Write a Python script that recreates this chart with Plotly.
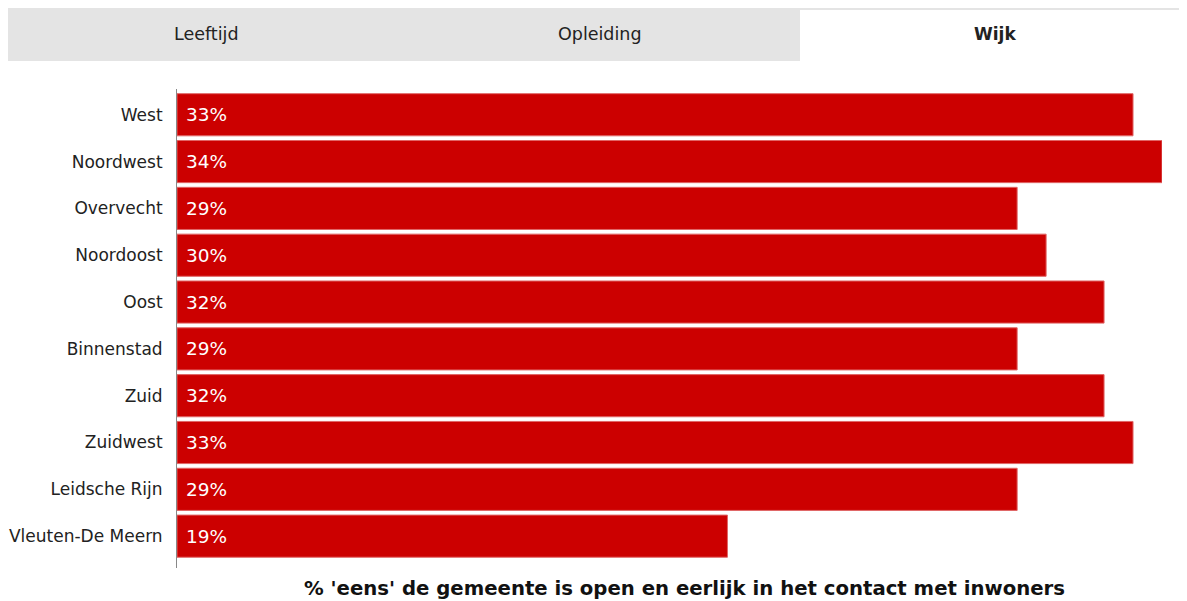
import plotly.graph_objects as go

# Data
wijken = ["West", "Noordwest", "Overvecht", "Noordoost", "Oost",
          "Binnenstad", "Zuid", "Zuidwest", "Leidsche Rijn", "Vleuten-De Meern"]
percentages = [33, 34, 29, 30, 32, 29, 32, 33, 29, 19]
tabs = ["Leeftijd", "Opleiding", "Wijk"]
title_text = "% 'eens' de gemeente is open en eerlijk in het contact met inwoners"

# the page body has an 8px margin, so the figure is offset by 8px
OFF = 8
W, H = 1187 - 2 * OFF, 601 - OFF
L = 177 - OFF
T = 89 - OFF
R = W - (1162 - OFF)
B = H - (568 - OFF)
plot_w = W - L - R
plot_h = H - T - B


def px_x(px):
    return (px - OFF - L) / plot_w


def px_y(py):
    return (H - B - (py - OFF)) / plot_h


FONT = "DejaVu Sans, Verdana, sans-serif"

fig = go.Figure(go.Bar(
    y=wijken,
    x=percentages,
    orientation="h",
    marker=dict(color="#cc0000", line=dict(color="#e06666", width=1)),
    text=[f" {v}%" for v in percentages],
    textposition="inside",
    insidetextanchor="start",
    textfont=dict(color="white", size=18.5, family=FONT),
    hoverinfo="skip",
))

fig.update_layout(
    width=W, height=H,
    margin=dict(l=L, r=R, t=T, b=B, autoexpand=False),
    plot_bgcolor="white",
    paper_bgcolor="white",
    bargap=0.1,
    showlegend=False,
    font=dict(family=FONT, color="#222"),
)

fig.update_xaxes(range=[0, 34], visible=False, showgrid=False, zeroline=False,
                 automargin=False)
fig.update_yaxes(
    categoryorder="array", categoryarray=wijken,
    range=[len(wijken) - 1 + 0.68, -0.55],
    showline=True, linecolor="#888", linewidth=1, automargin=False,
    showgrid=False, ticks="", ticklabelstandoff=10,
    tickfont=dict(size=17, family=FONT, color="#222"),
)

# tab strip
shapes = [
    dict(type="rect", xref="paper", yref="paper",
         x0=px_x(8), x1=px_x(1190), y0=px_y(61), y1=px_y(6),
         fillcolor="#e4e4e4", line=dict(width=0), layer="below"),
    dict(type="rect", xref="paper", yref="paper",
         x0=px_x(800), x1=px_x(1185), y0=px_y(61), y1=px_y(10),
         fillcolor="white", line=dict(width=0), layer="below"),
]
fig.update_layout(shapes=shapes)

tab_centers = [206, 600, 995]
for name, cx in zip(tabs, tab_centers):
    bold = name == "Wijk"
    fig.add_annotation(
        x=px_x(cx), y=px_y(34), xref="paper", yref="paper",
        xanchor="center", yanchor="middle",
        text=f"<b>{name}</b>" if bold else name,
        showarrow=False,
        font=dict(size=17 if bold else 17.5, family=FONT, color="#222"),
    )

fig.add_annotation(
    x=px_x(684), y=px_y(588), xref="paper", yref="paper",
    xanchor="center", yanchor="middle",
    text=f"<b>{title_text}</b>", showarrow=False,
    font=dict(size=19.7, family=FONT, color="#111"),
)

fig.write_html("out.html")
